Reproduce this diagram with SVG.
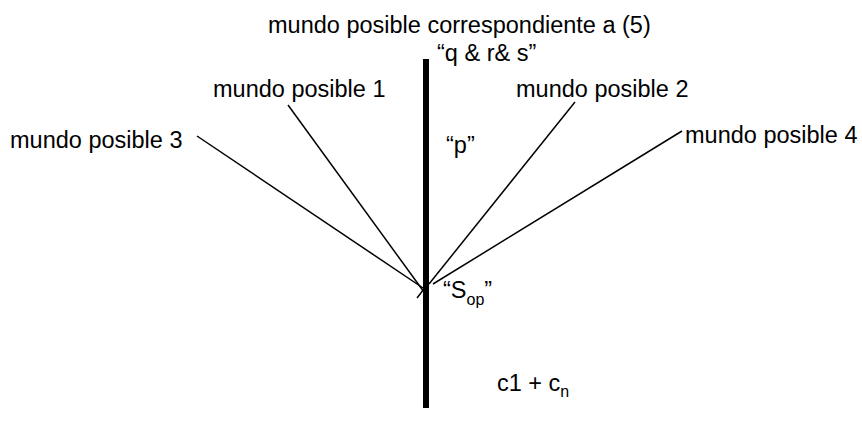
<svg xmlns="http://www.w3.org/2000/svg" width="862" height="424" viewBox="0 0 862 424">
<style>
text{font-family:"Liberation Sans",Arial,sans-serif;font-size:23.5px;fill:#000}
.sub{font-size:16px}
.ln{stroke:#000;stroke-width:1.5;fill:none}
.bar{stroke:#000;stroke-width:6;fill:none}
</style>
<rect width="862" height="424" fill="#fff"/>
<g id="connectors">
<line class="bar" x1="426" y1="59" x2="426" y2="408"/>
<line class="ln" x1="197" y1="136" x2="423" y2="288"/>
<line class="ln" x1="288" y1="105" x2="424" y2="292"/>
<line class="ln" x1="417" y1="298" x2="424" y2="289"/>
<line class="ln" x1="575" y1="102" x2="429" y2="284"/>
<line class="ln" x1="682" y1="131" x2="433" y2="284"/>
</g>
<g id="title"><text x="268" y="33">mundo posible correspondiente a (5)</text></g>
<g id="qrs"><text x="437" y="61">“q &amp; r&amp; s”</text></g>
<g id="mp1"><text x="213" y="97">mundo posible 1</text></g>
<g id="mp2"><text x="516" y="97">mundo posible 2</text></g>
<g id="mp3"><text x="10" y="148">mundo posible 3</text></g>
<g id="mp4"><text x="685" y="143">mundo posible 4</text></g>
<g id="p"><text x="446" y="153">“p”</text></g>
<g id="sop"><text x="443" y="298">“S<tspan class="sub" dy="7">op</tspan><tspan dy="-7">”</tspan></text></g>
<g id="c1cn"><text x="497" y="391">c1 + c<tspan class="sub" dy="6">n</tspan></text></g>
</svg>
